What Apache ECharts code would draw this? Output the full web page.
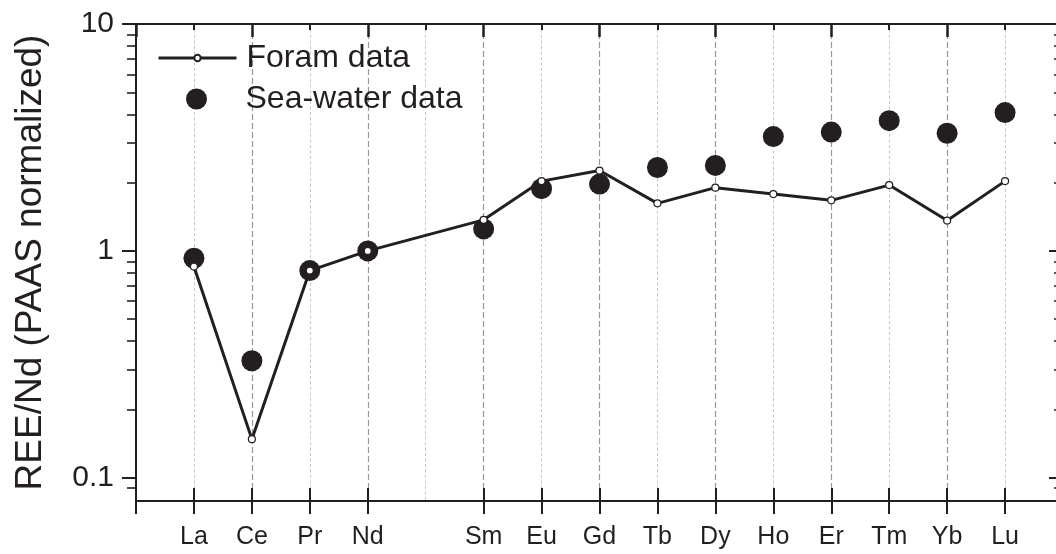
<!DOCTYPE html>
<html>
<head>
<meta charset="utf-8">
<script src="https://cdn.jsdelivr.net/npm/echarts@6/dist/echarts.min.js"></script>
<style>
html,body{margin:0;padding:0;background:#fff;}
#chart{width:1056px;height:554px;}
</style>
</head>
<body>
<div id="chart"></div>
<script>
// Rare earth elements (x = atomic number; Pm = 61 has no data)
var elements = ['La','Ce','Pr','Nd','Sm','Eu','Gd','Tb','Dy','Ho','Er','Tm','Yb','Lu'];
var atomicNumbers = [57,58,59,60,62,63,64,65,66,67,68,69,70,71];
var foramData = [0.853,0.148,0.819,1.0,1.37,2.03,2.26,1.62,1.90,1.78,1.67,1.95,1.36,2.03];
var seaWaterData = [0.928,0.328,0.819,1.0,1.25,1.88,1.97,2.33,2.38,3.19,3.34,3.75,3.30,4.07];
var yMajorTicks = [0.1, 1, 10];
var yMinorTicks = [0.09,0.2,0.3,0.4,0.5,0.6,0.7,0.8,0.9,2,3,4,5,6,7,8,9];
var xMin = 56, xMax = 72;

var INK = '#231f20';
var FONT = '"Liberation Sans", Arial, Helvetica, sans-serif';

function pairs(xs, ys){ return xs.map(function(x,i){ return [x, ys[i]]; }); }

var chart = echarts.init(document.getElementById('chart'), null, {renderer:'canvas'});
var gridBox = {left:136, right:-7, top:24, bottom:53, containLabel:false, outerBoundsMode:'none'};

var option = {
  animation:false,
  backgroundColor:'#fff',
  textStyle:{fontFamily:FONT, color:INK},
  grid:[
    Object.assign({}, gridBox),
    Object.assign({}, gridBox)
  ],
  legend:[
    {
      data:['Foram data'], left:157, top:42, padding:0,
      itemWidth:78, itemHeight:8, orient:'vertical',
      lineStyle:{color:INK, width:3},
      textStyle:{fontFamily:FONT, fontSize:32, color:INK, padding:[0,0,0,5]}
    },
    {
      data:['Sea-water data'], left:186, top:83, padding:0,
      itemWidth:78, itemHeight:21, orient:'vertical',
      textStyle:{fontFamily:FONT, fontSize:32, color:INK, padding:[0,0,0,5]}
    }
  ],
  xAxis:[
    { // bottom, outward ticks + labels
      gridIndex:0, type:'value', position:'bottom', min:xMin, max:xMax, interval:1,
      axisLine:{show:true, onZero:false, lineStyle:{color:INK, width:2}},
      axisTick:{show:true, inside:false, length:13, customValues:[xMin].concat(atomicNumbers), lineStyle:{color:INK, width:2}},
      axisLabel:{show:true, customValues:atomicNumbers, margin:24, fontSize:25, color:INK, fontFamily:FONT,
        formatter:function(v){ var i = atomicNumbers.indexOf(Math.round(v)); return i>=0 ? elements[i] : ''; }},
      splitLine:{show:false}
    },
    { // top: major/minor inward ticks, grid lines
      gridIndex:0, type:'value', position:'top', min:xMin, max:xMax, interval:2,
      axisLine:{show:true, onZero:false, lineStyle:{color:INK, width:2}},
      axisTick:{show:true, inside:true, length:13, lineStyle:{color:INK, width:2.5}},
      minorTick:{show:true, splitNumber:2, length:6, lineStyle:{color:INK, width:2}},
      axisLabel:{show:false},
      splitLine:{show:true, showMinLine:false, showMaxLine:false, lineStyle:{color:'#999999', width:1.2, type:[6,3]}},
      minorSplitLine:{show:true, lineStyle:{color:'#c6c6c6', width:1, type:[3,2.5]}}
    },
    { // bottom, inward half of crossing ticks
      gridIndex:1, type:'value', position:'bottom', min:xMin, max:xMax, interval:1,
      axisLine:{show:false, onZero:false},
      axisTick:{show:true, inside:true, length:13, customValues:atomicNumbers, lineStyle:{color:INK, width:2}},
      axisLabel:{show:false},
      splitLine:{show:false}
    }
  ],
  yAxis:[
    {
      gridIndex:0, type:'log', logBase:10, position:'left', min:0.079, max:10,
      name:'REE/Nd (PAAS normalized)', nameLocation:'middle', nameGap:87,
      nameTextStyle:{fontSize:37, color:INK, fontFamily:FONT},
      axisLine:{show:true, onZero:false, lineStyle:{color:INK, width:2}},
      axisTick:{show:true, inside:false, length:14, customValues:yMajorTicks, lineStyle:{color:INK, width:2}},
      axisLabel:{show:true, customValues:yMajorTicks, margin:22, fontSize:30, color:INK, fontFamily:FONT,
        formatter:function(v){ return v >= 1 ? String(Math.round(v)) : v.toFixed(1); }},
      splitLine:{show:false}
    },
    {
      gridIndex:0, type:'log', logBase:10, position:'right', min:0.079, max:10,
      axisLine:{show:true, onZero:false, lineStyle:{color:INK, width:2}},
      axisTick:{show:true, inside:true, length:14, customValues:yMajorTicks, lineStyle:{color:INK, width:2}},
      axisLabel:{show:false},
      splitLine:{show:false}
    },
    {
      gridIndex:1, type:'log', logBase:10, position:'left', min:0.079, max:10,
      axisLine:{show:false, onZero:false},
      axisTick:{show:true, inside:false, length:9, customValues:yMinorTicks, lineStyle:{color:INK, width:1.6}},
      axisLabel:{show:false},
      splitLine:{show:false}
    },
    {
      gridIndex:1, type:'log', logBase:10, position:'right', min:0.079, max:10,
      axisLine:{show:false, onZero:false},
      axisTick:{show:true, inside:true, length:9, customValues:yMinorTicks, lineStyle:{color:INK, width:1.6}},
      axisLabel:{show:false},
      splitLine:{show:false}
    }
  ],
  series:[
    {
      name:'Sea-water data', type:'scatter', xAxisIndex:0, yAxisIndex:0,
      data:pairs(atomicNumbers, seaWaterData),
      symbol:'circle', symbolSize:21,
      itemStyle:{color:INK, opacity:1},
      z:2
    },
    {
      name:'Foram data', type:'line', xAxisIndex:0, yAxisIndex:0,
      data:pairs(atomicNumbers, foramData),
      symbol:'circle', symbolSize:7, showAllSymbol:true,
      lineStyle:{color:INK, width:3},
      itemStyle:{color:'#ffffff', borderColor:INK, borderWidth:1.2},
      z:3
    }
  ]
};
chart.setOption(option);
</script>
</body>
</html>
